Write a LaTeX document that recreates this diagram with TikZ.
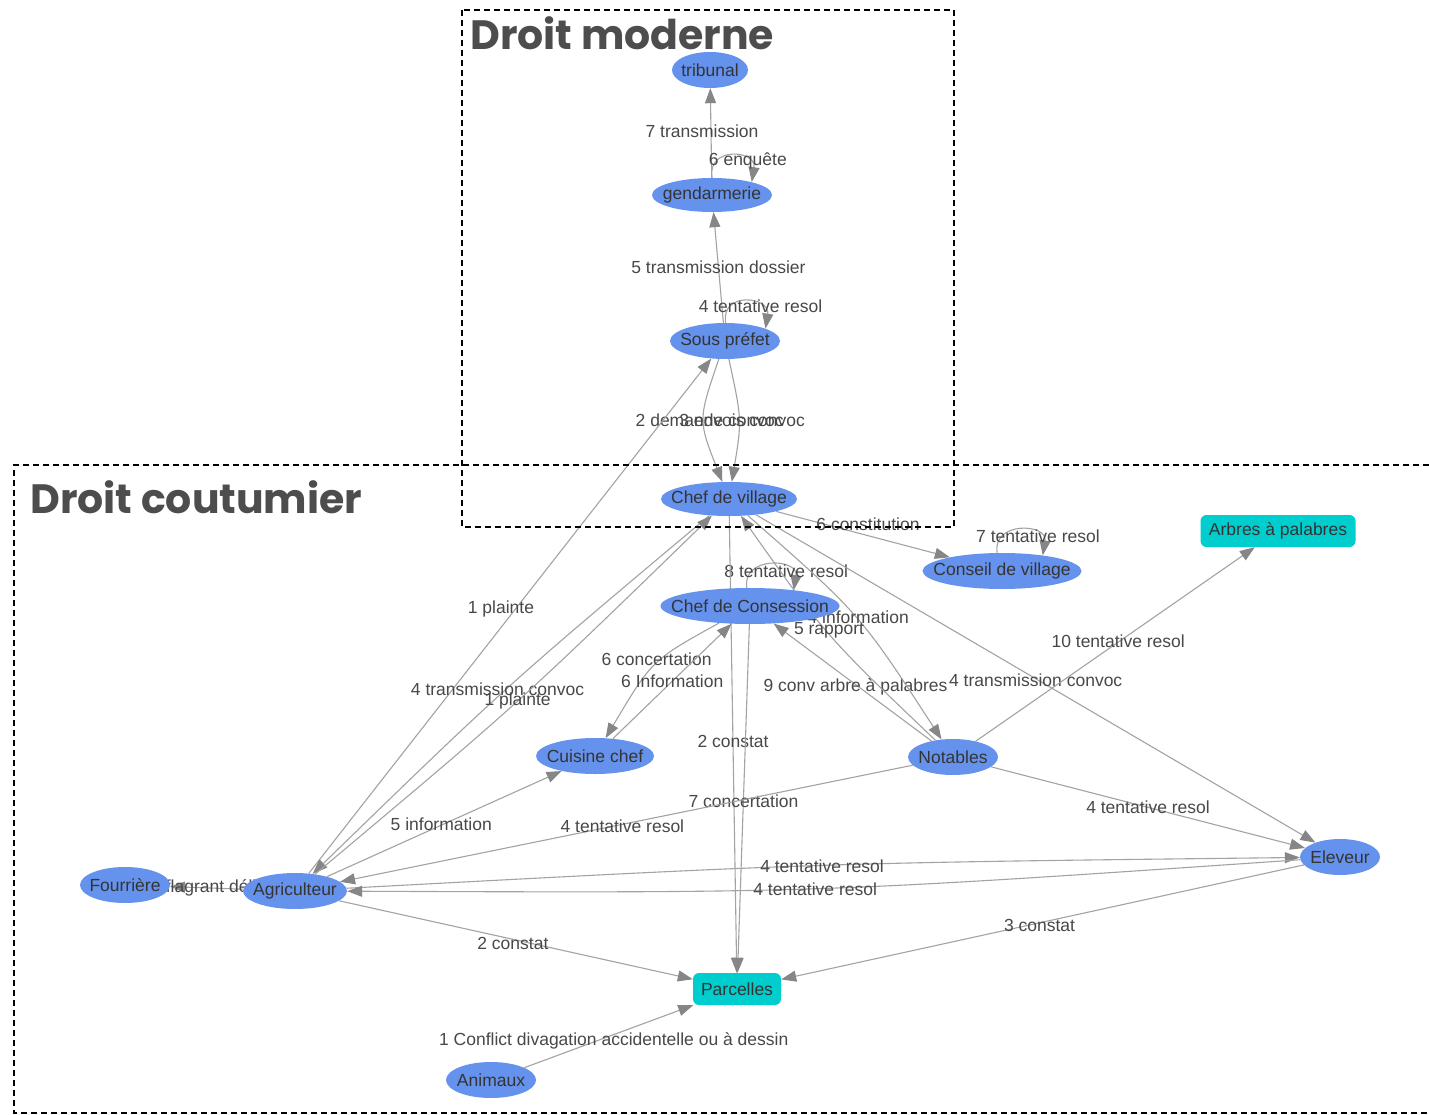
\documentclass[tikz,border=0pt]{standalone}
\usepackage{fontspec}
\setmainfont{Liberation Sans}
\newfontfamily\titlefont{Poppins}
\usetikzlibrary{shapes.geometric,arrows.meta,calc}
\definecolor{nblue}{HTML}{6592EC}
\definecolor{ncyan}{HTML}{00CDCD}
\definecolor{ntext}{HTML}{343434}
\definecolor{ltext}{HTML}{484848}
\definecolor{eline}{HTML}{A3A3A3}
\definecolor{earrow}{HTML}{868686}
\definecolor{ttext}{HTML}{4D4D4D}
\pgfdeclarelayer{bg}
\pgfdeclarelayer{fg}
\pgfsetlayers{bg,main,fg}
\begin{document}
\begin{tikzpicture}[x=1pt,y=-1pt,
  nd/.style={ellipse, fill=nblue, inner sep=0pt, text=ntext, font=\fontsize{17.5}{20}\selectfont,
    execute at begin node={\hbox to 0pt\bgroup\hss}, execute at end node={\hss\egroup}},
  bx/.style={rectangle, rounded corners=6pt, fill=ncyan, inner sep=0pt, text=ntext, font=\fontsize{17.5}{20}\selectfont},
  edge/.style={draw=eline, line width=1.1pt, -{Triangle[length=15pt,width=11pt,color=earrow]}},
  lbl/.style={text=ltext, font=\fontsize{17.5}{20}\selectfont, inner sep=0pt},
  frame/.style={draw=black, line width=1.4pt, dash pattern=on 6pt off 4pt},
  ttl/.style={text=ttext, font=\titlefont\bfseries\fontsize{41}{41}\selectfont, anchor=base west, inner sep=0pt}
]
\useasboundingbox (0,0) rectangle (1429,1115);

% nodes
\node[nd, minimum width=76, minimum height=36] (trib) at (710,70) {tribunal};
\node[nd, minimum width=120, minimum height=34] (gend) at (712,195) {gendarmerie};
\node[nd, minimum width=110, minimum height=36] (sp) at (725,341) {Sous préfet};
\node[nd, minimum width=136, minimum height=34] (cdv) at (729,499) {Chef de village};
\node[nd, minimum width=179, minimum height=36] (cdc) at (750,606) {Chef de Consession};
\node[nd, minimum width=159, minimum height=36] (cv) at (1002,571) {Conseil de village};
\node[bx, minimum width=155, minimum height=32] (arb) at (1278,531) {Arbres à palabres};
\node[nd, minimum width=118, minimum height=36] (cuis) at (595,756) {Cuisine chef};
\node[nd, minimum width=90, minimum height=36] (notab) at (953,757) {Notables};
\node[nd, minimum width=90, minimum height=36] (four) at (125,885) {Fourrière};
\node[nd, minimum width=104, minimum height=36] (agri) at (295,891) {Agriculteur};
\node[nd, minimum width=80, minimum height=36] (elev) at (1340,857) {Eleveur};
\node[bx, minimum width=88, minimum height=32] (parc) at (737,989) {Parcelles};
\node[nd, minimum width=90, minimum height=36] (anim) at (491,1080) {Animaux};

% edges
\begin{pgfonlayer}{bg}
\fill[white] (0,0) rectangle (1429,1115);
\draw[edge] (gend) -- node[lbl, xshift=-9pt, yshift=2pt]{7 transmission} (trib);
\draw[edge] (gend.90) .. controls +(-5,-32) and +(5,-32) .. (gend.18) node[lbl, pos=0.5, xshift=16pt, yshift=-5pt]{6 enquête};
\draw[edge] (sp) -- node[lbl]{5 transmission dossier} (gend);
\draw[edge] (sp.88) .. controls +(-5,-32) and +(5,-32) .. (sp.17) node[lbl, pos=0.5, xshift=15pt, yshift=-5pt]{4 tentative resol};
\draw[edge] (sp) .. controls (698,420) .. (cdv) node[lbl, pos=0.5, xshift=6pt]{2 demande convoc};
\draw[edge] (sp) .. controls (742,420) .. (cdv) node[lbl, pos=0.5, xshift=3pt]{3 envois convoc};
\draw[edge] (agri) -- node[lbl, xshift=-9pt, yshift=7pt]{1 plainte} (sp);
\draw[edge] (cdv) .. controls (505,687) .. (agri) node[lbl, pos=0.5, xshift=-9pt]{4 transmission convoc};
\draw[edge] (agri) .. controls (519,703) .. (cdv) node[lbl, pos=0.5]{1 plainte};
\draw[edge] (cdv) -- node[lbl, xshift=5pt, yshift=10pt]{6 constitution} (cv);
\draw[edge] (cv.105) .. controls +(-5,-32) and +(5,-32) .. (cv.21) node[lbl, pos=0.5, xshift=18pt, yshift=-6pt]{7 tentative resol};
\draw[edge] (cdc.100) .. controls +(-5,-32) and +(5,-32) .. (cdc.20) node[lbl, pos=0.5, xshift=16pt, yshift=-6pt]{8 tentative resol};
\draw[edge] (cdv) -- node[lbl, yshift=3pt]{2 constat} (parc);
\draw[edge] (cdc) -- node[lbl, yshift=-3pt]{7 concertation} (parc);
\draw[edge] (cdc) .. controls (652,660) .. (cuis) node[lbl, pos=0.5, xshift=2pt, yshift=6pt]{6 concertation};
\draw[edge] (cuis) -- node[lbl]{6 Information} (cdc);
\draw[edge] (agri) -- node[lbl, xshift=-3pt]{5 information} (cuis);
\draw[edge] (notab) -- node[lbl, xshift=3pt, yshift=-5pt]{9 conv arbre à palabres} (cdc);
\draw[edge] (cdv) .. controls (860,614) .. (notab) node[lbl, pos=0.5, xshift=2pt]{4 information};
\draw[edge] (notab) .. controls (826,636) .. (cdv) node[lbl, pos=0.5, yshift=4pt]{5 rapport};
\draw[edge] (cdv) -- node[lbl, pos=0.5, yshift=-2pt]{4 transmission convoc} (elev);
\draw[edge] (notab) -- node[lbl, xshift=3pt, yshift=3pt]{10 tentative resol} (arb);
\draw[edge] (notab) -- node[lbl]{4 tentative resol} (elev);
\draw[edge] (notab) -- node[lbl, xshift=-4pt, yshift=-3pt]{4 tentative resol} (agri);
\draw[edge] (agri) .. controls (819,863) .. (elev) node[lbl, pos=0.5, xshift=2pt, yshift=-1pt]{4 tentative resol};
\draw[edge] (elev) .. controls (815,893) .. (agri) node[lbl, pos=0.5, xshift=-2pt, yshift=-1pt]{4 tentative resol};
\draw[edge] (agri) -- node[lbl, xshift=-3pt, yshift=-3pt]{2 constat} (parc);
\draw[edge] (elev) -- node[lbl, xshift=-3pt, yshift=-3pt]{3 constat} (parc);
\draw[edge] (anim) -- node[lbl, xshift=5pt, yshift=-4pt]{1 Conflict divagation accidentelle ou à dessin} (parc);
\draw[edge] (agri) -- node[lbl, xshift=7pt]{flagrant délit} (four);
\end{pgfonlayer}

% frames and titles
\begin{pgfonlayer}{fg}
\draw[frame] (462,10) rectangle (954,527);
\draw[frame] (1429,465) -- (14,465) -- (14,1113) -- (1429,1113);
\node[ttl] (tm) at (470,50) {Droit moderne};
\node[ttl] (tc) at (30,513) {Droit coutumier};
\end{pgfonlayer}
\end{tikzpicture}
\end{document}
